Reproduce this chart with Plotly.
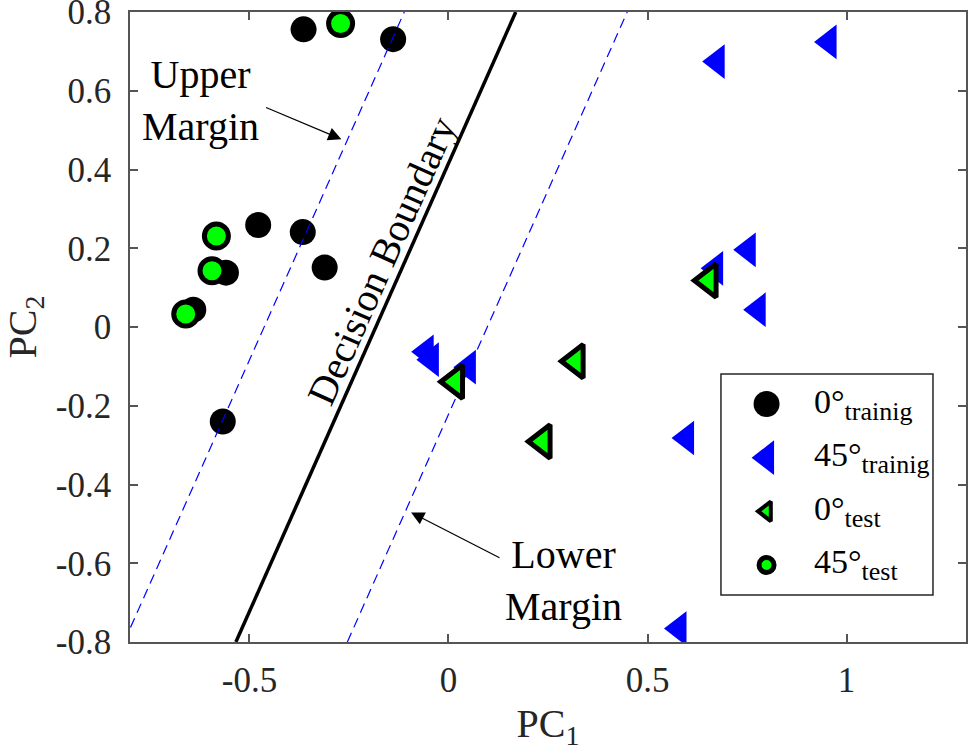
import plotly.graph_objects as go

# ---------------- data ----------------
# 0° training samples (black circles)
train0_pc1 = [-0.364, -0.139, -0.478, -0.366, -0.311, -0.559, -0.641, -0.567]
train0_pc2 = [0.756, 0.731, 0.259, 0.241, 0.151, 0.138, 0.044, -0.240]

# 45° training samples (blue left triangles)
train45_pc1 = [0.675, 0.956, 0.753, 0.671, 0.778, 0.598, 0.579, -0.056, -0.043, 0.050]
train45_pc2 = [0.674, 0.724, 0.196, 0.149, 0.044, -0.282, -0.766, -0.063, -0.083, -0.102]

# test samples drawn as green triangles with black edge
test_tri_pc1 = [0.017, 0.320, 0.237, 0.654]
test_tri_pc2 = [-0.139, -0.087, -0.291, 0.118]

# test samples drawn as green circles with black edge
test_circ_pc1 = [-0.271, -0.583, -0.594, -0.660]
test_circ_pc2 = [0.771, 0.231, 0.143, 0.033]

# SVM decision boundary and margins (PC1 at PC2 = -0.8 and 0.8)
line_pc2 = [-0.8, 0.8]
boundary_pc1 = [-0.534, 0.169]
upper_margin_pc1 = [-0.815, -0.111]
lower_margin_pc1 = [-0.254, 0.449]

# axis ticks
x_tickvals = [-0.5, 0, 0.5, 1]
x_ticktext = ["-0.5", "0", "0.5", "1"]
y_tickvals = [-0.8, -0.6, -0.4, -0.2, 0, 0.2, 0.4, 0.6, 0.8]
y_ticktext = ["-0.8", "-0.6", "-0.4", "-0.2", "0", "0.2", "0.4", "0.6", "0.8"]

# legend entries (labels as in the original figure)
legend_main = ["0°", "45°", "0°", "45°"]
legend_sub = ["trainig", "trainig", "test", "test"]
legend_rows = [0, 1, 2, 3]

FONT = "Liberation Serif, Times New Roman, serif"
AX = "#262626"
GREEN = "#00ff00"

fig = go.Figure()

# training markers
fig.add_trace(go.Scatter(x=train0_pc1, y=train0_pc2, mode="markers",
                         marker=dict(symbol="circle", size=26, color="black",
                                     line=dict(width=0)),
                         showlegend=False))
fig.add_trace(go.Scatter(x=train45_pc1, y=train45_pc2, mode="markers",
                         marker=dict(symbol="triangle-left", size=30, color="#0000ff",
                                     line=dict(width=0)),
                         showlegend=False))

# lines
fig.add_trace(go.Scatter(x=upper_margin_pc1, y=line_pc2, mode="lines",
                         line=dict(color="#0000ff", width=1.2, dash="10px,6px"),
                         showlegend=False))
fig.add_trace(go.Scatter(x=lower_margin_pc1, y=line_pc2, mode="lines",
                         line=dict(color="#0000ff", width=1.2, dash="10px,6px"),
                         showlegend=False))
fig.add_trace(go.Scatter(x=boundary_pc1, y=line_pc2, mode="lines",
                         line=dict(color="black", width=3.5),
                         showlegend=False))

# test markers
fig.add_trace(go.Scatter(x=test_tri_pc1, y=test_tri_pc2, mode="markers",
                         marker=dict(symbol="triangle-left", size=29, color=GREEN,
                                     line=dict(width=5, color="black")),
                         showlegend=False))
fig.add_trace(go.Scatter(x=test_circ_pc1, y=test_circ_pc2, mode="markers",
                         marker=dict(symbol="circle", size=24, color=GREEN,
                                     line=dict(width=5, color="black")),
                         showlegend=False))

# ---------------- custom legend on an overlay axis ----------------
legend_styles = [
    dict(symbol="circle", size=26, color="black", line=dict(width=0)),
    dict(symbol="triangle-left", size=30, color="#0000ff", line=dict(width=0)),
    dict(symbol="triangle-left", size=17, color=GREEN, line=dict(width=4, color="black")),
    dict(symbol="circle", size=15, color=GREEN, line=dict(width=5, color="black")),
]
for row, style in zip(legend_rows, legend_styles):
    fig.add_trace(go.Scatter(x=[0.215], y=[row], mode="markers", marker=style,
                             xaxis="x2", yaxis="y2", showlegend=False,
                             hoverinfo="skip"))
for row, main, sub in zip(legend_rows, legend_main, legend_sub):
    fig.add_annotation(x=0.428, y=row, xref="x2", yref="y2",
                       text=f"{main}<sub><span style='font-size:26px'>{sub}</span></sub>",
                       showarrow=False, xanchor="left", yanchor="middle",
                       font=dict(family=FONT, size=34, color="black"))

fig.add_shape(type="rect", xref="x2 domain", yref="y2 domain", x0=0, x1=1, y0=0, y1=1,
              line=dict(color=AX, width=1.5), fillcolor="white", layer="below")

# ---------------- text annotations ----------------
fig.add_annotation(x=-0.622, y=0.574, xref="x", yref="y", text="Upper<br>Margin",
                   showarrow=False, font=dict(family=FONT, size=40, color="black"))
fig.add_annotation(x=-0.269, y=0.477, ax=-0.462, ay=0.559, xref="x", yref="y",
                   axref="x", ayref="y", text="", showarrow=True,
                   arrowhead=2, arrowsize=2.2, arrowwidth=1.2, arrowcolor="black")

fig.add_annotation(x=0.290, y=-0.644, xref="x", yref="y", text="Lower<br>Margin",
                   showarrow=False, font=dict(family=FONT, size=40, color="black"))
fig.add_annotation(x=-0.094, y=-0.471, ax=0.132, ay=-0.588, xref="x", yref="y",
                   axref="x", ayref="y", text="", showarrow=True,
                   arrowhead=2, arrowsize=2.2, arrowwidth=1.2, arrowcolor="black")

fig.add_annotation(x=-0.167, y=0.168, xref="x", yref="y", text="Decision Boundary",
                   textangle=-66, showarrow=False,
                   font=dict(family=FONT, size=40, color="black"))

# ---------------- layout ----------------
axis_common = dict(showgrid=False, zeroline=False, showline=True, linecolor="#555555",
                   linewidth=1.5, mirror="ticks", ticks="inside", ticklen=8,
                   tickwidth=1.5, tickcolor="#555555", automargin=False,
                   ticklabeloverflow="allow",
                   tickfont=dict(family=FONT, size=35, color=AX))

fig.update_layout(
    width=969, height=754,
    margin=dict(l=130, r=3, t=12, b=112, autoexpand=False),
    paper_bgcolor="white", plot_bgcolor="rgba(0,0,0,0)",
    showlegend=False,
    xaxis=dict(range=[-0.8, 1.3], tickvals=x_tickvals, ticktext=x_ticktext,
               title=dict(text="PC<sub>1</sub>", font=dict(family=FONT, size=40, color=AX),
                          standoff=10),
               ticklabelstandoff=6, **axis_common),
    yaxis=dict(range=[-0.8000001, 0.8000001], tickvals=y_tickvals, ticktext=y_ticktext,
               title=dict(text="PC<sub>2</sub>", font=dict(family=FONT, size=40, color=AX),
                          standoff=22),
               ticklabelstandoff=10, **axis_common),
    xaxis2=dict(domain=[0.7069, 0.9605], anchor="y2", range=[0, 1], visible=False),
    yaxis2=dict(domain=[0.0746, 0.4254], anchor="x2", range=[3.56, -0.56], visible=False),
)

fig.write_html("out.html", config={"displayModeBar": False},
               post_script="document.body.style.margin='0px';"
                           "document.body.style.overflow='hidden';")
